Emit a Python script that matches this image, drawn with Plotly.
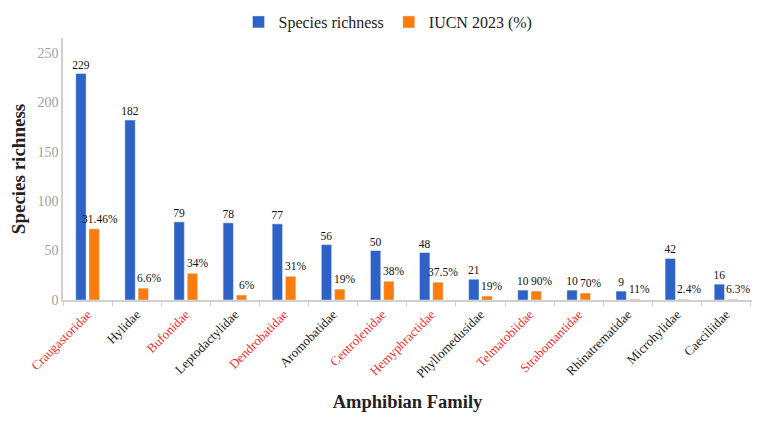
import plotly.graph_objects as go

families = ["Craugastoridae", "Hylidae", "Bufonidae", "Leptodactylidae", "Dendrobatidae",
            "Aromobatidae", "Centrolenidae", "Hemyphractidae", "Phyllomedusidae", "Telmatobiidae",
            "Strabomantidae", "Rhinatrematidae", "Microhylidae", "Caeciliidae"]
highlight = [True, False, True, False, True, False, True, True, False, True, True, False, False, False]
richness = [229, 182, 79, 78, 77, 56, 50, 48, 21, 10, 10, 9, 42, 16]
iucn_threatened = [72, 12, 27, 5, 24, 11, 19, 18, 4, 9, 7, 1, 1, 1]
iucn_labels = ["31.46%", "6.6%", "34%", "6%", "31%", "19%", "38%", "37.5%", "19%", "90%",
               "70%", "11%", "2.4%", "6.3%"]

tick_text = [f"<span style='color:#F03030'>{f}</span>" if h else f"<span style='color:#222'>{f}</span>"
             for f, h in zip(families, highlight)]

blue = "#2E62C6"
orange_colors = ["#F97C0C"] * 11 + ["#EDB793"] * 3

font = "Liberation Serif"
fig = go.Figure()
fig.add_trace(go.Bar(
    x=families, y=richness, name="Species richness", marker_color=blue,
    text=[str(v) for v in richness], textposition="outside",
    textfont=dict(family=font, size=11.5, color="#111"), cliponaxis=False,
))
fig.add_trace(go.Bar(
    x=families, y=iucn_threatened, name="IUCN 2023 (%)", marker_color=orange_colors,
    cliponaxis=False,
))

# Orange value labels, nudged right of their bars as in the original
for fam, val, lab in zip(families, iucn_threatened, iucn_labels):
    fig.add_annotation(x=fam, y=val, text=lab, showarrow=False, xanchor="center", yanchor="bottom",
                       xshift=12, yshift=2, font=dict(family=font, size=11.5, color="#111"))

# page body adds an 8px offset, so the figure is 8px smaller than the window
fig.update_layout(
    width=760, height=424,
    paper_bgcolor="white", plot_bgcolor="white",
    margin=dict(l=55, r=16, t=30, b=132, autoexpand=False),
    barmode="group", bargap=0.46, bargroupgap=0.22,
    font=dict(family=font, color="#222"),
    showlegend=True,
    legend=dict(orientation="h", xref="container", x=0.5, xanchor="center", yref="container", y=0.967, yanchor="middle",
                font=dict(family=font, size=16, color="#222"), itemwidth=30,
                traceorder="normal", bgcolor="rgba(0,0,0,0)"),
    uniformtext=dict(mode="show", minsize=11),
)
fig.update_xaxes(
    tickmode="array", tickvals=families, ticktext=tick_text,
    tickangle=-45, tickfont=dict(family=font, size=13),
    showline=True, linecolor="#D0D0D0", linewidth=1.5,
    ticks="outside", tickson="boundaries", ticklen=4, tickcolor="#D0D0D0",
    showgrid=False, automargin=False,
    title=dict(text="<b>Amphibian Family</b>", font=dict(family=font, size=18.5, color="#222"), standoff=15),
)
fig.update_yaxes(
    range=[0, 265], tickvals=[0, 50, 100, 150, 200, 250],
    tickfont=dict(family=font, size=14, color="#A0A0A0"),
    showline=True, linecolor="#D0D0D0", linewidth=1.5,
    showgrid=False, zeroline=False, automargin=False,
    title=dict(text="<b>Species richness</b>", font=dict(family=font, size=19, color="#222"), standoff=8),
)
fig.write_html("out.html")
